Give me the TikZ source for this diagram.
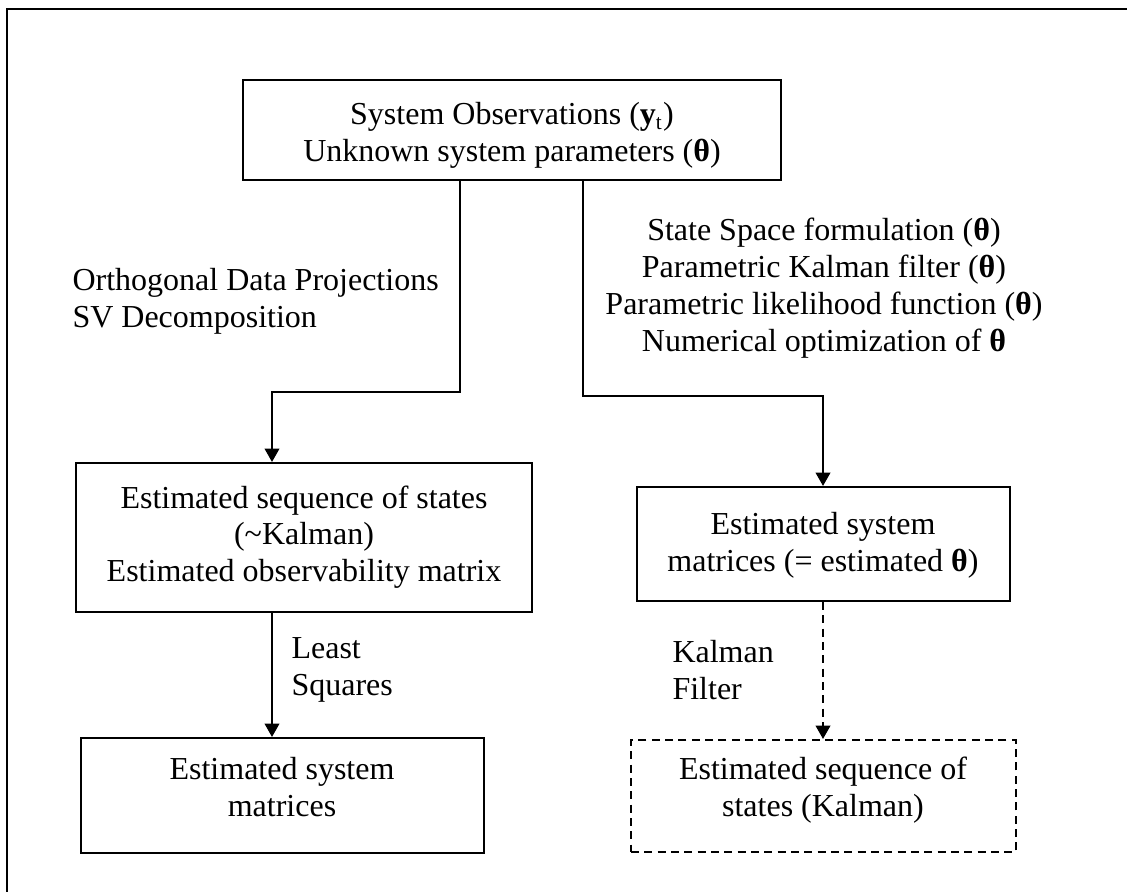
\documentclass[tikz,border=0pt]{standalone}
\usepackage{fontspec}
\setmainfont{Liberation Serif}
\usetikzlibrary{arrows.meta,fit}
\begin{document}
\begin{tikzpicture}[x=0.375pt,y=-0.375pt,
  box/.style={draw,line width=0.8pt,inner sep=0pt},
  dbox/.style={box,dash pattern=on 3pt off 2pt},
  txt/.style={inner sep=0pt,align=center,font=\fontsize{12}{13.8}\selectfont},
  ltxt/.style={txt,align=left,anchor=west},
  conn/.style={line width=0.7pt,-{Triangle[width=5.5pt,length=5pt]}},
  dconn/.style={conn,dash pattern=on 3pt off 2pt},
  frame/.style={line width=0.95pt}]
\useasboundingbox (0,0) rectangle (1127,892);
\draw[frame] (1127,9) -- (7,9) -- (7,892);
% boxes
\node[box,fit={(243,80) (781,180)}] (top) {};
\node[box,fit={(76,463) (532,612)}] (left) {};
\node[box,fit={(637,487) (1010,601)}] (right) {};
\node[box,fit={(81,738) (484,853)}] (lsm) {};
\node[dbox,fit={(631,740) (1016,852)}] (kal) {};
% texts
\node[txt] (ttop) at (512,135) {System Observations (\textbf{y}\textsubscript{t})\\Unknown system parameters ({\bfseries θ})};
\node[ltxt] (tproj) at (72,301) {Orthogonal Data Projections\\SV Decomposition};
\node[txt] (tss) at (824,288) {State Space formulation ({\bfseries θ})\\Parametric Kalman filter ({\bfseries θ})\\Parametric likelihood function ({\bfseries θ})\\Numerical optimization of {\bfseries θ}};
\node[txt] (tleft) at (304,537) {Estimated sequence of states\\(\textasciitilde Kalman)\\Estimated observability matrix};
\node[txt] (tright) at (823,545) {Estimated system\\matrices (= estimated {\bfseries θ})};
\node[ltxt] (tls) at (291,670) {Least\\Squares};
\node[ltxt] (tkf) at (672,670) {Kalman\\Filter};
\node[txt] (tlsm) at (282,787) {Estimated system\\matrices};
\node[txt] (tkal) at (823,790) {Estimated sequence of\\states (Kalman)};
% connectors
\coordinate (b1) at (460,392);
\coordinate (b2) at (272,392);
\coordinate (c1) at (583,396);
\coordinate (c2) at (823,396);
\draw[conn] (top.south -| b1) -- (b1) -- (b2) -- (left.north -| b2);
\draw[conn] (top.south -| c1) -- (c1) -- (c2) -- (right.north -| c2);
\draw[conn] (left.south -| b2) -- (lsm.north -| b2);
\draw[dconn] (right.south -| c2) -- (kal.north -| c2);
\end{tikzpicture}
\end{document}
